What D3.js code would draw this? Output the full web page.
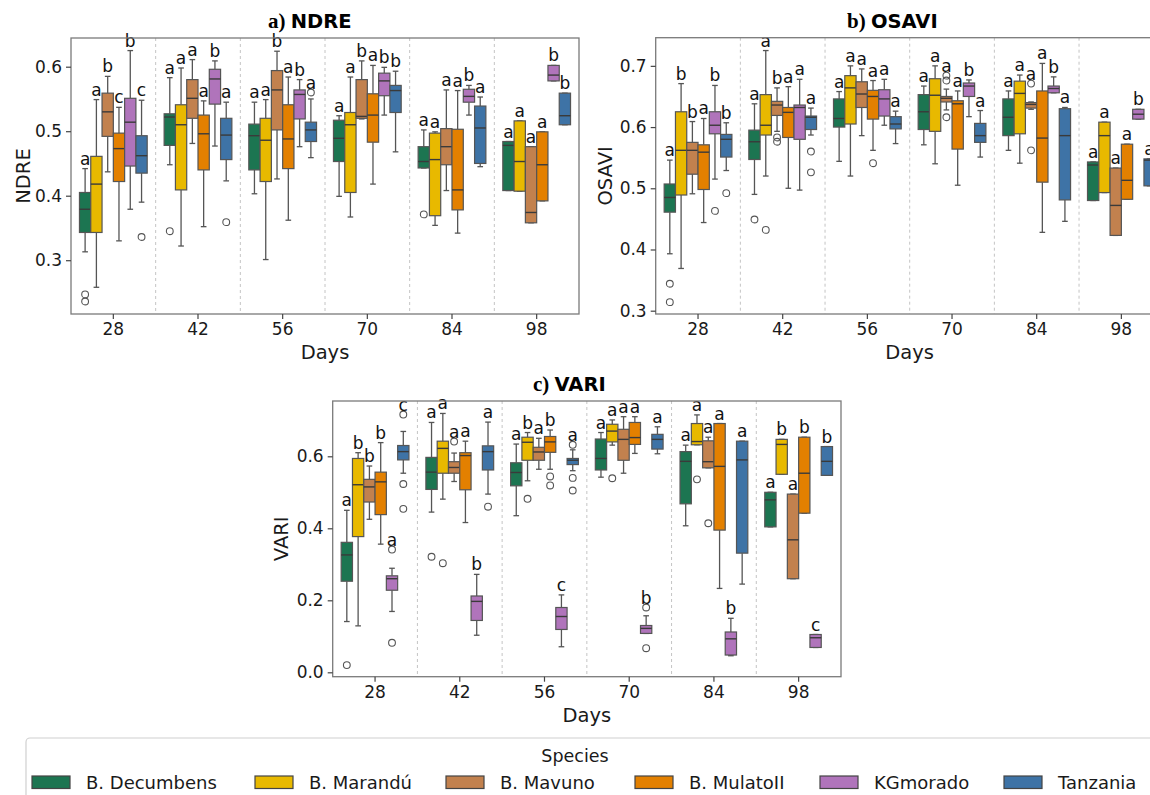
<!DOCTYPE html>
<html>
<head>
<meta charset="utf-8">
<script src="https://cdn.jsdelivr.net/npm/d3@7"></script>
<style>
  body { margin: 0; background: #fff; }
  svg { display: block; font-family: "DejaVu Sans", sans-serif; }
</style>
</head>
<body>
<svg width="1150" height="795"></svg>
<script>
const days = ["28", "42", "56", "70", "84", "98"];
const species = ["B. Decumbens", "B. Marandú", "B. Mavuno", "B. MulatoII", "KGmorado", "Tanzania"];
const speciesColors = ["#1c7551", "#e8b900", "#c2814e", "#e38000", "#b074bb", "#3e73a6"];

// row: day, species index, low whisker, q1, median, q3, high whisker, outliers, letter
const ndreBoxes = [
  ["28", 0, 0.313, 0.343, 0.379, 0.405, 0.442, [0.247, 0.236], "a"],
  ["28", 1, 0.258, 0.343, 0.418, 0.461, 0.549, [], "a"],
  ["28", 2, 0.437, 0.492, 0.530, 0.559, 0.585, [], "b"],
  ["28", 3, 0.330, 0.422, 0.473, 0.497, 0.537, [], "c"],
  ["28", 4, 0.379, 0.446, 0.514, 0.551, 0.625, [], "b"],
  ["28", 5, 0.390, 0.435, 0.462, 0.493, 0.548, [0.336], "c"],
  ["42", 0, 0.448, 0.478, 0.522, 0.527, 0.583, [0.345], "a"],
  ["42", 1, 0.322, 0.409, 0.510, 0.541, 0.598, [], "a"],
  ["42", 2, 0.481, 0.520, 0.551, 0.580, 0.611, [], "a"],
  ["42", 3, 0.352, 0.440, 0.496, 0.525, 0.547, [], "a"],
  ["42", 4, 0.477, 0.542, 0.581, 0.596, 0.609, [], "b"],
  ["42", 5, 0.423, 0.456, 0.494, 0.520, 0.545, [0.359], "a"],
  ["56", 0, 0.403, 0.440, 0.493, 0.511, 0.545, [], "a"],
  ["56", 1, 0.301, 0.422, 0.486, 0.520, 0.549, [], "a"],
  ["56", 2, 0.426, 0.502, 0.564, 0.594, 0.624, [], "b"],
  ["56", 3, 0.362, 0.442, 0.488, 0.541, 0.584, [], "a"],
  ["56", 4, 0.476, 0.519, 0.557, 0.564, 0.580, [], "b"],
  ["56", 5, 0.459, 0.484, 0.502, 0.514, 0.550, [0.560], "a"],
  ["70", 0, 0.399, 0.453, 0.489, 0.517, 0.524, [], "a"],
  ["70", 1, 0.367, 0.405, 0.510, 0.529, 0.584, [], "a"],
  ["70", 2, 0.519, 0.520, 0.523, 0.580, 0.609, [], "b"],
  ["70", 3, 0.418, 0.483, 0.525, 0.558, 0.602, [], "a"],
  ["70", 4, 0.525, 0.555, 0.578, 0.590, 0.599, [], "b"],
  ["70", 5, 0.468, 0.529, 0.563, 0.571, 0.593, [], "b"],
  ["84", 0, 0.443, 0.443, 0.453, 0.476, 0.502, [0.371], "a"],
  ["84", 1, 0.354, 0.369, 0.456, 0.497, 0.499, [], "a"],
  ["84", 2, 0.408, 0.448, 0.476, 0.504, 0.564, [], "a"],
  ["84", 3, 0.342, 0.378, 0.409, 0.503, 0.563, [], "a"],
  ["84", 4, 0.525, 0.545, 0.554, 0.565, 0.571, [], "b"],
  ["84", 5, 0.445, 0.450, 0.505, 0.539, 0.553, [], "a"],
  ["98", 0, 0.408, 0.408, 0.478, 0.484, 0.484, [], "a"],
  ["98", 1, 0.407, 0.407, 0.453, 0.516, 0.516, [], "a"],
  ["98", 2, 0.358, 0.358, 0.374, 0.476, 0.476, [], "a"],
  ["98", 3, 0.392, 0.392, 0.448, 0.499, 0.499, [], "a"],
  ["98", 4, 0.578, 0.578, 0.587, 0.602, 0.602, [], "b"],
  ["98", 5, 0.510, 0.510, 0.524, 0.559, 0.559, [], "b"]
];

const osaviBoxes = [
  ["28", 0, 0.393, 0.461, 0.485, 0.507, 0.546, [0.344, 0.314], "a"],
  ["28", 1, 0.369, 0.489, 0.562, 0.625, 0.671, [], "b"],
  ["28", 2, 0.491, 0.523, 0.562, 0.575, 0.609, [], "b"],
  ["28", 3, 0.444, 0.498, 0.559, 0.571, 0.614, [], "a"],
  ["28", 4, 0.515, 0.589, 0.603, 0.625, 0.668, [0.463], "b"],
  ["28", 5, 0.529, 0.551, 0.580, 0.588, 0.607, [0.492], "b"],
  ["42", 0, 0.490, 0.547, 0.576, 0.595, 0.638, [0.449], "a"],
  ["42", 1, 0.520, 0.587, 0.603, 0.653, 0.725, [0.432], "a"],
  ["42", 2, 0.593, 0.619, 0.636, 0.642, 0.664, [0.583, 0.576], "b"],
  ["42", 3, 0.500, 0.583, 0.624, 0.632, 0.666, [], "a"],
  ["42", 4, 0.497, 0.580, 0.632, 0.636, 0.678, [], "a"],
  ["42", 5, 0.587, 0.596, 0.616, 0.618, 0.631, [0.560, 0.526], "a"],
  ["56", 0, 0.544, 0.600, 0.614, 0.646, 0.658, [], "a"],
  ["56", 1, 0.520, 0.605, 0.664, 0.684, 0.700, [], "a"],
  ["56", 2, 0.586, 0.632, 0.654, 0.674, 0.695, [], "a"],
  ["56", 3, 0.562, 0.613, 0.650, 0.660, 0.676, [0.541], "a"],
  ["56", 4, 0.603, 0.618, 0.646, 0.661, 0.678, [], "a"],
  ["56", 5, 0.573, 0.597, 0.605, 0.617, 0.626, [], "a"],
  ["70", 0, 0.571, 0.596, 0.625, 0.653, 0.667, [], "a"],
  ["70", 1, 0.540, 0.593, 0.652, 0.679, 0.700, [], "a"],
  ["70", 2, 0.628, 0.641, 0.647, 0.650, 0.662, [0.684, 0.676, 0.616], "a"],
  ["70", 3, 0.505, 0.564, 0.638, 0.643, 0.659, [], "a"],
  ["70", 4, 0.617, 0.650, 0.667, 0.672, 0.677, [], "b"],
  ["70", 5, 0.551, 0.575, 0.586, 0.606, 0.627, [], "a"],
  ["84", 0, 0.562, 0.586, 0.616, 0.646, 0.659, [], "a"],
  ["84", 1, 0.541, 0.589, 0.655, 0.675, 0.685, [], "a"],
  ["84", 2, 0.629, 0.631, 0.637, 0.640, 0.641, [0.671, 0.562], "a"],
  ["84", 3, 0.428, 0.510, 0.582, 0.659, 0.704, [], "a"],
  ["84", 4, 0.656, 0.656, 0.663, 0.667, 0.682, [], "b"],
  ["84", 5, 0.446, 0.481, 0.586, 0.630, 0.632, [], "a"],
  ["98", 0, 0.480, 0.480, 0.538, 0.543, 0.543, [], "a"],
  ["98", 1, 0.493, 0.493, 0.586, 0.608, 0.608, [], "a"],
  ["98", 2, 0.423, 0.423, 0.472, 0.533, 0.533, [], "a"],
  ["98", 3, 0.482, 0.482, 0.513, 0.572, 0.572, [], "a"],
  ["98", 4, 0.613, 0.613, 0.621, 0.629, 0.629, [], "b"],
  ["98", 5, 0.504, 0.504, 0.546, 0.548, 0.548, [], "a"]
];

const variBoxes = [
  ["28", 0, 0.141, 0.253, 0.326, 0.361, 0.450, [0.020], "a"],
  ["28", 1, 0.129, 0.377, 0.521, 0.594, 0.610, [], "b"],
  ["28", 2, 0.425, 0.473, 0.515, 0.536, 0.573, [], "b"],
  ["28", 3, 0.356, 0.438, 0.529, 0.556, 0.638, [], "b"],
  ["28", 4, 0.169, 0.228, 0.260, 0.268, 0.289, [0.341, 0.082], "a"],
  ["28", 5, 0.553, 0.590, 0.613, 0.630, 0.669, [0.716, 0.523, 0.454], "c"],
  ["42", 0, 0.445, 0.508, 0.556, 0.597, 0.694, [0.321], "a"],
  ["42", 1, 0.481, 0.553, 0.622, 0.642, 0.719, [0.303], "a"],
  ["42", 2, 0.530, 0.553, 0.569, 0.585, 0.609, [0.641], "a"],
  ["42", 3, 0.416, 0.507, 0.602, 0.610, 0.642, [], "a"],
  ["42", 4, 0.103, 0.144, 0.197, 0.212, 0.272, [], "b"],
  ["42", 5, 0.495, 0.562, 0.613, 0.629, 0.695, [0.460], "a"],
  ["56", 0, 0.435, 0.518, 0.555, 0.582, 0.634, [], "a"],
  ["56", 1, 0.532, 0.589, 0.639, 0.653, 0.666, [0.482], "b"],
  ["56", 2, 0.564, 0.589, 0.612, 0.625, 0.650, [], "a"],
  ["56", 3, 0.564, 0.611, 0.640, 0.655, 0.673, [0.544, 0.519], "b"],
  ["56", 4, 0.071, 0.119, 0.155, 0.180, 0.215, [], "c"],
  ["56", 5, 0.560, 0.577, 0.589, 0.594, 0.618, [0.632, 0.540, 0.505], "a"],
  ["70", 0, 0.542, 0.562, 0.594, 0.648, 0.666, [], "a"],
  ["70", 1, 0.631, 0.640, 0.670, 0.689, 0.701, [0.539], "a"],
  ["70", 2, 0.553, 0.589, 0.647, 0.675, 0.710, [], "a"],
  ["70", 3, 0.608, 0.633, 0.652, 0.694, 0.710, [], "a"],
  ["70", 4, 0.108, 0.108, 0.122, 0.130, 0.157, [0.180, 0.067], "b"],
  ["70", 5, 0.607, 0.620, 0.647, 0.661, 0.682, [], "a"],
  ["84", 0, 0.407, 0.468, 0.586, 0.613, 0.631, [], "a"],
  ["84", 1, 0.632, 0.632, 0.641, 0.691, 0.715, [0.536], "a"],
  ["84", 2, 0.568, 0.568, 0.585, 0.643, 0.653, [0.414], "a"],
  ["84", 3, 0.233, 0.395, 0.572, 0.691, 0.691, [], "a"],
  ["84", 4, 0.046, 0.048, 0.093, 0.112, 0.150, [], "b"],
  ["84", 5, 0.245, 0.331, 0.590, 0.642, 0.642, [], "a"],
  ["98", 0, 0.404, 0.404, 0.479, 0.500, 0.500, [], "a"],
  ["98", 1, 0.550, 0.550, 0.633, 0.647, 0.647, [], "b"],
  ["98", 2, 0.260, 0.260, 0.368, 0.495, 0.495, [], "a"],
  ["98", 3, 0.442, 0.442, 0.553, 0.653, 0.653, [], "b"],
  ["98", 4, 0.069, 0.069, 0.096, 0.105, 0.105, [], "c"],
  ["98", 5, 0.547, 0.547, 0.586, 0.627, 0.627, [], "b"]
];

const ndreTicks = [0.3, 0.4, 0.5, 0.6];
const osaviTicks = [0.3, 0.4, 0.5, 0.6, 0.7];
const variTicks = [0.0, 0.2, 0.4, 0.6];

const svg = d3.select("svg");
const lineColor = "#555";

function drawPanel(p) {
  const g = svg.append("g");
  const left = p.left, top = p.top, w = p.width, h = p.height;

  const x = d3.scaleBand().domain(days).range([left, left + w]);
  const hue = d3.scaleBand().domain(d3.range(species.length))
    .range([x.bandwidth() * 0.1, x.bandwidth() * 0.9]);
  const y = d3.scaleLinear().domain(p.domain).range([top + h, top]);

  // dashed separators between days
  g.selectAll(".sep")
    .data(days.slice(1))
    .enter()
    .append("line")
    .attr("x1", d => x(d)).attr("x2", d => x(d))
    .attr("y1", top).attr("y2", top + h)
    .attr("stroke", "#c4c4c4")
    .attr("stroke-width", 1)
    .attr("stroke-dasharray", "3,3");

  const bw = hue.bandwidth();
  const boxes = g.selectAll(".box")
    .data(p.data)
    .enter()
    .append("g")
    .attr("transform", d => `translate(${x(d[0]) + hue(d[1])},0)`);

  // whiskers
  boxes.append("line")
    .attr("x1", bw / 2).attr("x2", bw / 2)
    .attr("y1", d => y(d[6])).attr("y2", d => y(d[5]))
    .attr("stroke", lineColor).attr("stroke-width", 1.3);
  boxes.append("line")
    .attr("x1", bw / 2).attr("x2", bw / 2)
    .attr("y1", d => y(d[3])).attr("y2", d => y(d[2]))
    .attr("stroke", lineColor).attr("stroke-width", 1.3);
  // caps
  [2, 6].forEach(k => {
    boxes.append("line")
      .attr("x1", bw * 0.25).attr("x2", bw * 0.75)
      .attr("y1", d => y(d[k])).attr("y2", d => y(d[k]))
      .attr("stroke", lineColor).attr("stroke-width", 1.3);
  });

  boxes.append("rect")
    .attr("x", 0)
    .attr("width", bw)
    .attr("y", d => y(d[5]))
    .attr("height", d => Math.max(0.5, y(d[3]) - y(d[5])))
    .attr("fill", d => speciesColors[d[1]])
    .attr("stroke", lineColor)
    .attr("stroke-width", 1.2);

  boxes.append("line")
    .attr("x1", 0).attr("x2", bw)
    .attr("y1", d => y(d[4])).attr("y2", d => y(d[4]))
    .attr("stroke", "#3a3a3a").attr("stroke-width", 1.4);

  // outliers
  boxes.selectAll("circle")
    .data(d => d[7])
    .enter()
    .append("circle")
    .attr("cx", bw / 2)
    .attr("cy", v => y(v))
    .attr("r", 3.4)
    .attr("fill", "none")
    .attr("stroke", "#555")
    .attr("stroke-width", 1.1);

  // significance letters
  boxes.append("text")
    .attr("x", bw / 2)
    .attr("y", d => y(d3.max([d[6]].concat(d[7]))) - 4)
    .attr("text-anchor", "middle")
    .attr("font-size", 17)
    .attr("fill", "#111")
    .text(d => d[8]);

  // frame
  g.append("rect")
    .attr("x", left).attr("y", top)
    .attr("width", w).attr("height", h)
    .attr("fill", "none")
    .attr("stroke", "#7a7a7a")
    .attr("stroke-width", 1.3);

  const yAxis = g.append("g")
    .attr("transform", `translate(${left},0)`)
    .call(d3.axisLeft(y).tickValues(p.ticks).tickFormat(d3.format(".1f")).tickSize(5).tickPadding(4));
  const xAxis = g.append("g")
    .attr("transform", `translate(0,${top + h})`)
    .call(d3.axisBottom(x).tickSize(5).tickPadding(4));
  [xAxis, yAxis].forEach(a => {
    a.select(".domain").remove();
    a.selectAll(".tick line").attr("stroke", "#444").attr("stroke-width", 1.2);
    a.selectAll(".tick text")
      .attr("font-size", 17)
      .attr("fill", "#1a1a1a")
      .attr("font-family", "DejaVu Sans, sans-serif");
  });

  // title
  const t = g.append("text")
    .attr("x", p.titleX)
    .attr("y", top - 10)
    .attr("fill", "#000");
  t.append("tspan")
    .attr("font-family", "Liberation Serif, serif")
    .attr("font-weight", "bold")
    .attr("font-size", 21)
    .text(p.tag + " ");
  t.append("tspan")
    .attr("font-weight", "bold")
    .attr("font-size", 19.5)
    .text(p.name);

  // axis labels
  g.append("text")
    .attr("transform", `translate(${p.ylabelX},${top + h / 2}) rotate(-90)`)
    .attr("text-anchor", "middle")
    .attr("font-size", 19.5)
    .attr("fill", "#1a1a1a")
    .text(p.name);
  g.append("text")
    .attr("x", left + w / 2)
    .attr("y", top + h + 45)
    .attr("text-anchor", "middle")
    .attr("font-size", 19.5)
    .attr("fill", "#1a1a1a")
    .text("Days");
}

drawPanel({
  data: ndreBoxes, name: "NDRE", tag: "a)",
  left: 71, top: 38, width: 508, height: 276,
  domain: [0.2166, 0.6445], ticks: ndreTicks,
  titleX: 268, ylabelX: 30
});
drawPanel({
  data: osaviBoxes, name: "OSAVI", tag: "b)",
  left: 655.7, top: 37.7, width: 508, height: 276.3,
  domain: [0.2946, 0.746], ticks: osaviTicks,
  titleX: 847, ylabelX: 612
});
drawPanel({
  data: variBoxes, name: "VARI", tag: "c)",
  left: 332.7, top: 401, width: 508.3, height: 275.7,
  domain: [-0.0122, 0.7536], ticks: variTicks,
  titleX: 533, ylabelX: 288
});

// legend
const legend = svg.append("g");
legend.append("rect")
  .attr("x", 26).attr("y", 738)
  .attr("width", 1140).attr("height", 70)
  .attr("rx", 4)
  .attr("fill", "#fff")
  .attr("stroke", "#d0d0d0")
  .attr("stroke-width", 1.2);
legend.append("text")
  .attr("x", 575).attr("y", 762)
  .attr("text-anchor", "middle")
  .attr("font-size", 17.5)
  .attr("fill", "#1a1a1a")
  .text("Species");

const legendX = [32, 255, 446, 635, 820, 1004];
const items = legend.selectAll(".item")
  .data(species)
  .enter()
  .append("g")
  .attr("transform", (d, i) => `translate(${legendX[i]},776)`);
items.append("rect")
  .attr("width", 38).attr("height", 12.5)
  .attr("fill", (d, i) => speciesColors[i])
  .attr("stroke", "#444")
  .attr("stroke-width", 1.2);
items.append("text")
  .attr("x", 54).attr("y", 12.5)
  .attr("font-size", 18)
  .attr("fill", "#1a1a1a")
  .text(d => d);
</script>
</body>
</html>
